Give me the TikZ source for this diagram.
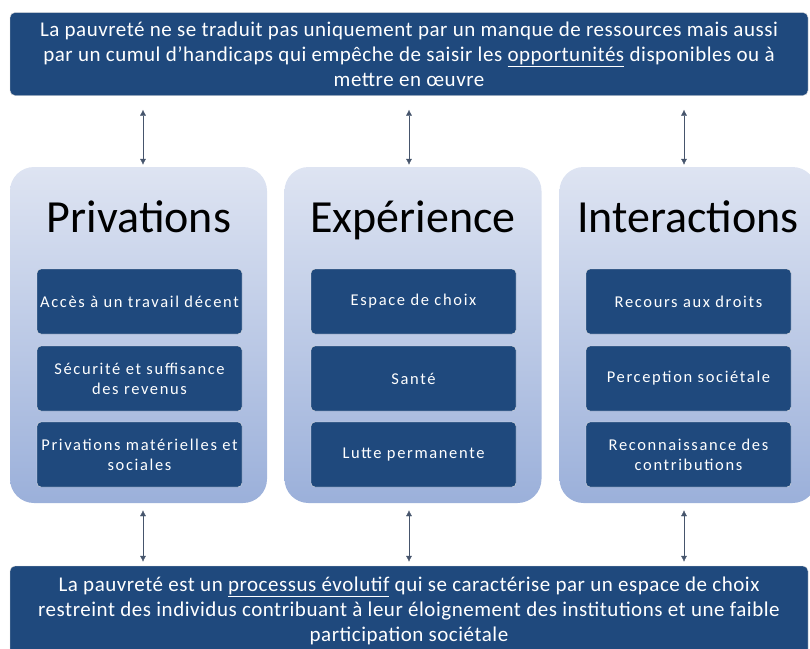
\documentclass[tikz,border=0pt]{standalone}
\usepackage{fontspec}
\setmainfont{Carlito}
\newfontfamily\itemfont[LetterSpace=10]{Carlito}
\newfontfamily\bannerfont[LetterSpace=2.5]{Carlito}
\usetikzlibrary{arrows.meta}
\definecolor{navy}{RGB}{31,73,125}
\definecolor{paleblue}{RGB}{222,228,242}
\definecolor{midblue}{RGB}{155,176,218}
\definecolor{arrowgray}{RGB}{70,85,108}

\begin{document}
\begin{tikzpicture}[x=1pt,y=-1pt,
  banner/.style={draw=black!15,fill=navy,rounded corners=5pt,text=white,align=center,inner sep=0pt,minimum width=798pt,font=\bannerfont\fontsize{21}{25}\selectfont},
  column/.style={rounded corners=24pt,top color=paleblue,bottom color=midblue,minimum width=257pt,minimum height=336pt,inner sep=0pt},
  title/.style={anchor=base,text=black,font=\fontsize{46}{50}\selectfont},
  item/.style={draw=black!10,fill=navy,rounded corners=4pt,text=white,align=center,minimum width=205pt,minimum height=65pt,inner sep=0pt,font=\itemfont\fontsize{16.5}{20}\selectfont},
  link/.style={draw=arrowgray,{Latex[length=6pt,width=6pt]}-{Latex[length=6pt,width=6pt]}}]

\useasboundingbox (0,0) rectangle (810,648);

\node[banner,minimum height=83pt] (top) at (409,54) {La pauvreté ne se traduit pas uniquement par un manque de ressources mais aussi\\ par un cumul d’handicaps qui empêche de saisir les \underline{opportunités} disponibles ou à\\ mettre en œuvre};

\node[column] (priv) at (138.5,335) {};
\node[column] (exp) at (413,335) {};
\node[column] (inter) at (688,335) {};

\node[title] (privtitle) at (139,232) {Privations};
\node[title] (exptitle) at (413,232) {Expérience};
\node[title] (intertitle) at (688,232) {Interactions};

\node[item] (priv1) at (139.5,301.5) {Accès à un travail décent};
\node[item] (priv2) at (139.5,378.5) {Sécurité et suffisance\\des revenus};
\node[item] (priv3) at (139.5,454.5) {Privations matérielles et\\sociales};

\node[item] (exp1) at (413.5,301.5) {Espace de choix};
\node[item] (exp2) at (413.5,378.5) {Santé};
\node[item] (exp3) at (413.5,454.5) {Lutte permanente};

\node[item] (inter1) at (688.5,301.5) {Recours aux droits};
\node[item] (inter2) at (688.5,378.5) {Perception sociétale};
\node[item] (inter3) at (688.5,454.5) {Reconnaissance des\\contributions};

\node[banner,minimum height=90pt] (bottom) at (409,611) {La pauvreté est un \underline{processus évolutif} qui se caractérise par un espace de choix\\ restreint des individus contribuant à leur éloignement des institutions et une faible\\ participation sociétale};

\coordinate (x1) at (143,0);
\coordinate (x2) at (409,0);
\coordinate (x3) at (684,0);

\draw[link,shorten <=14pt,shorten >=2pt] (x1 |- top.south) -- (x1 |- priv.north);
\draw[link,shorten <=14pt,shorten >=2pt] (x2 |- top.south) -- (x2 |- exp.north);
\draw[link,shorten <=14pt,shorten >=2pt] (x3 |- top.south) -- (x3 |- inter.north);

\draw[link,shorten <=7pt,shorten >=4pt] (x1 |- priv.south) -- (x1 |- bottom.north);
\draw[link,shorten <=7pt,shorten >=4pt] (x2 |- exp.south) -- (x2 |- bottom.north);
\draw[link,shorten <=7pt,shorten >=4pt] (x3 |- inter.south) -- (x3 |- bottom.north);
\end{tikzpicture}
\end{document}
